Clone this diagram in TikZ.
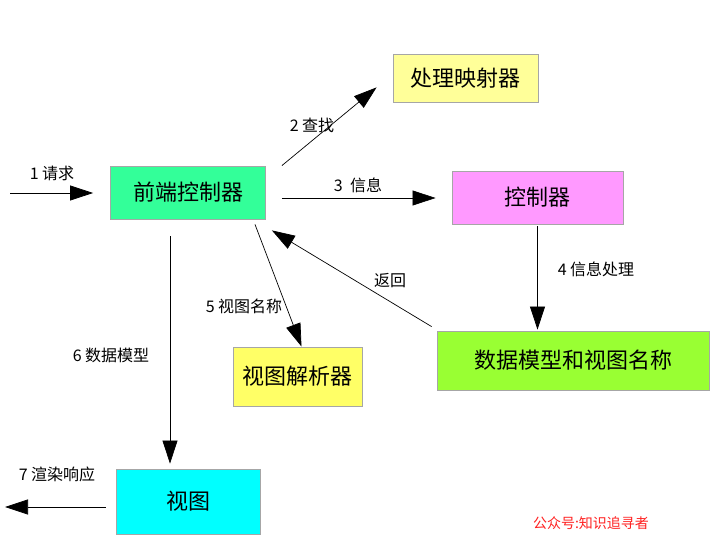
\documentclass[tikz,border=0pt]{standalone}
\usepackage{fontspec}
\setmainfont{Noto Sans CJK SC}
\usetikzlibrary{arrows.meta,calc}

\definecolor{fcgreen}{HTML}{33FF99}
\definecolor{hmyellow}{HTML}{FFFF99}
\definecolor{ctlpink}{HTML}{FF99FF}
\definecolor{mvgreen}{HTML}{99FF33}
\definecolor{vryellow}{HTML}{FFFF66}
\definecolor{vwcyan}{HTML}{00FFFF}
\definecolor{wmred}{HTML}{FF2020}

\begin{document}
\begin{tikzpicture}[x=1pt,y=-1pt,
   box/.style={draw=gray!70,line width=0.8pt,inner sep=0pt,font=\fontsize{22}{26}\selectfont},
   lbl/.style={font=\fontsize{16}{19}\selectfont},
   flow/.style={-{Triangle[length=23pt,width=15pt]},line width=0.7pt}]
   \useasboundingbox (0,0) rectangle (721,548);

   % boxes
   \node[box,fill=fcgreen,minimum width=155pt,minimum height=53pt] (fc) at (188,192.5) {前端控制器};
   \node[box,fill=hmyellow,minimum width=145pt,minimum height=48pt] (hm) at (465.5,78) {处理映射器};
   \node[box,fill=ctlpink,minimum width=171pt,minimum height=53pt] (ctl) at (537.5,197.5) {控制器};
   \node[box,fill=mvgreen,minimum width=272pt,minimum height=59pt] (mv) at (573,360.5) {数据模型和视图名称};
   \node[box,fill=vryellow,minimum width=129pt,minimum height=59pt] (vr) at (297.5,376.5) {视图解析器};
   \node[box,fill=vwcyan,minimum width=144pt,minimum height=65pt] (vw) at (188,501.5) {视图};

   % free ends
   \coordinate (in) at (10,193);
   \coordinate (out) at (5,507);

   % arrows
   \draw[flow] (in) -- ($(fc.west)+(-17,0.5)$);
   \draw[flow] ($(fc.north east)+(16,0)$) -- ($(hm.south west)+(-16,-15)$);
   \draw[flow] ($(fc.east)+(16,5.5)$) -- ($(ctl.west)+(-16,0.5)$);
   \draw[flow,shorten <=2pt,shorten >=1pt] (ctl.south) -- (ctl.south |- mv.north);
   \draw[flow] ($(fc.south)+(67,5)$) -- ($(vr.north)+(4,0)$);
   \draw[flow] ($(mv.north west)+(-5,-4)$) -- ($(fc.south east)+(6,11)$);
   \draw[flow] ($(fc.south)+(-18,17)$) -- ($(vw.north)+(-18,-5)$);
   \draw[flow] ($(vw.west)+(-10,5.5)$) -- (out);

   % labels
   \node[lbl] (l1) at (52,173) {1 请求};
   \node[lbl] (l2) at (312,125) {2 查找};
   \node[lbl] (l3) at (358,185) {3\ \ 信息};
   \node[lbl] (l4) at (596,269) {4 信息处理};
   \node[lbl] (l5) at (244,306) {5 视图名称};
   \node[lbl] (lret) at (390,281) {返回};
   \node[lbl] (l6) at (111,355) {6 数据模型};
   \node[lbl] (l7) at (57,474) {7 渲染响应};
   \node[font=\fontsize{14}{16}\selectfont,text=wmred] (wm) at (591,523) {公众号:知识追寻者};
\end{tikzpicture}
\end{document}
